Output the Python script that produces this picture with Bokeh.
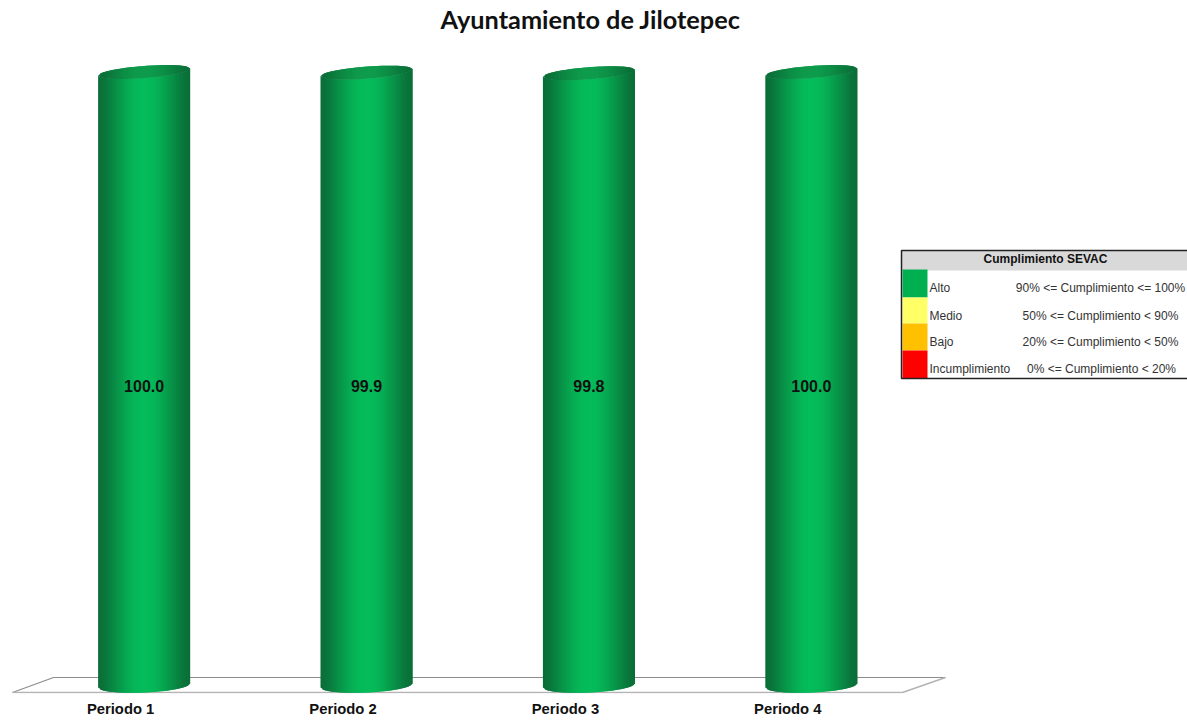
import math
from bokeh.plotting import figure
from bokeh.models import Range1d, FixedTicker, Title
from bokeh.core.properties import value
from bokeh.embed import file_html
from bokeh.resources import INLINE

categories = ["Periodo 1", "Periodo 2", "Periodo 3", "Periodo 4"]
values = [100.0, 99.9, 99.8, 100.0]
value_labels = ["100.0", "99.9", "99.8", "100.0"]
title_text = "Ayuntamiento de Jilotepec"
legend_title = "Cumplimiento SEVAC"
legend_names = ["Alto", "Medio", "Bajo", "Incumplimiento"]
legend_ranges = ["90% <= Cumplimiento <= 100%", "50% <= Cumplimiento < 90%",
                 "20% <= Cumplimiento < 50%", "0% <= Cumplimiento < 20%"]
legend_colors = ["#00b050", "#ffff66", "#ffc000", "#ff0000"]

# Layout, in page pixels
FR_L, FR_R = 0, 1187
FR_T, FR_B = 35, 693
PX_PER_CAT = 222.4      # between category centres
CAT1_PX = 143.6
Y0_PX, Y100_PX = 685, 71.5
PX_PER_VAL = (Y0_PX - Y100_PX) / 100
BAR_HALF = 46 / PX_PER_CAT

x_range = Range1d(1 + (FR_L - CAT1_PX) / PX_PER_CAT, 1 + (FR_R - CAT1_PX) / PX_PER_CAT)
y_range = Range1d((Y0_PX - FR_B) / PX_PER_VAL, (Y0_PX - FR_T) / PX_PER_VAL)

p = figure(output_backend="svg", toolbar_location=None,
           frame_width=FR_R - FR_L, frame_height=FR_B - FR_T,
           x_range=x_range, y_range=y_range, min_border=0,
           min_border_left=0, min_border_right=0, min_border_top=0, min_border_bottom=0,
           outline_line_color=None, background_fill_color="white")
p.grid.visible = False
p.yaxis.visible = False

# Category labels sit left of their cylinders
tick_positions = [i + 1 - 23.5 / PX_PER_CAT for i in range(len(categories))]
ax = p.xaxis[0]
ax.ticker = FixedTicker(ticks=tick_positions)
ax.major_label_overrides = {t: c for t, c in zip(tick_positions, categories)}
ax.axis_line_color = None
ax.major_tick_line_color = None
ax.minor_tick_line_color = None
ax.major_label_standoff = 1
ax.major_label_text_font = "Liberation Sans"
ax.major_label_text_font_style = "bold"
ax.major_label_text_font_size = "14.8px"
ax.major_label_text_color = "#111111"

p.add_layout(Title(text=title_text, align="left", offset=440, standoff=3, text_font="Lato",
                   text_font_style="bold", text_font_size="25.3px", text_color="#111111"), "above")

p.extra_x_ranges["px"] = Range1d(FR_L, FR_R)
p.extra_y_ranges["px"] = Range1d(FR_B, FR_T)
PX = dict(x_range_name="px", y_range_name="px")

# Floor
p.patch([12, 53, 945, 902], [692, 677, 677, 692], fill_color="#ffffff", line_color=None, **PX)
p.line([12, 53, 945], [692, 677, 677], line_color="#8c8c8c", line_width=1.2, **PX)
p.line([945, 902, 12], [677, 692, 692], line_color="#b4b4b4", line_width=1.6, **PX)


def mix(a, b, t):
    return "#%02x%02x%02x" % tuple(int(round(a[i] + (b[i] - a[i]) * t)) for i in range(3))


DARK, LIGHT = (10, 110, 56), (5, 188, 90)
CAP_DARK, CAP_LIGHT = (10, 110, 56), (14, 156, 76)
N = 46
xs, ys, cols = [], [], []
cap_xs, cap_ys, cap_cols = [], [], []


def edge(s, tilt, depth, sign):
    return -tilt * s + sign * depth * math.sqrt(max(0.0, 1 - s * s))


for i, v in enumerate(values):
    cx = i + 1
    for k in range(N):
        s0 = -1 + 2 * k / N
        # each strip runs under the next one, so no seams show
        s1 = min(1.0, -1 + 2 * (k + 2) / N)
        sm = -1 + 2 * (k + 0.5) / N
        t = math.cos(sm * math.pi / 2) ** 1.5
        x0, x1 = cx + s0 * BAR_HALF, cx + s1 * BAR_HALF
        b0 = -edge(s0, 2, 7, 1) / PX_PER_VAL
        b1 = -edge(s1, 2, 7, 1) / PX_PER_VAL
        t0 = v - edge(s0, 3.5, 6, 1) / PX_PER_VAL
        t1 = v - edge(s1, 3.5, 6, 1) / PX_PER_VAL
        xs.append([x0, x1, x1, x0])
        ys.append([b0, b1, t1, t0])
        cols.append(mix(DARK, LIGHT, t))
        u0 = v - edge(s0, 3.5, 6, -1) / PX_PER_VAL
        u1 = v - edge(s1, 3.5, 6, -1) / PX_PER_VAL
        cap_xs.append([x0, x1, x1, x0])
        cap_ys.append([t0, t1, u1, u0])
        cap_cols.append(mix(CAP_DARK, CAP_LIGHT, t))

p.patches(xs, ys, fill_color=cols, line_color=None)
p.patches(cap_xs, cap_ys, fill_color=cap_cols, line_color=None)

# Value labels
p.text(x=[i + 1 for i in range(len(values))], y=[v / 2 for v in values], text=value_labels,
       text_font=value("Liberation Sans"), text_font_style="bold", text_font_size="16px",
       text_color="#111111", text_align="center", text_baseline="middle", y_offset=7)

# Legend table (page pixels)
row_top = [269, 297, 323, 350]
row_bot = [297, 323, 350, 378]
p.quad(left=[901], right=[1187], top=[250], bottom=[270], fill_color="#d9d9d9", line_color=None, **PX)
p.quad(left=[902] * 4, right=[927] * 4, top=row_top, bottom=row_bot, fill_color=legend_colors,
       line_color=None, **PX)
p.line([1187, 901, 901, 1187], [250, 250, 378, 378], line_color="#222222", line_width=1.5, **PX)
SANS = value("Liberation Sans")
p.text(x=[1045], y=[258], text=[legend_title], text_font=SANS, text_font_style="bold",
       text_font_size="12px", text_color="#111111", text_align="center", text_baseline="middle", **PX)
row_mid = [287, 315, 341, 368]
p.text(x=[929] * 4, y=row_mid, text=legend_names, text_font=SANS, text_font_size="12px",
       text_color="#333333", text_align="left", text_baseline="middle", **PX)
p.text(x=[1100, 1100, 1100, 1101], y=row_mid, text=legend_ranges, text_font=SANS,
       text_font_size="12px", text_color="#333333", text_align="center", text_baseline="middle", **PX)

open("out.html", "w").write(file_html(p, INLINE))
